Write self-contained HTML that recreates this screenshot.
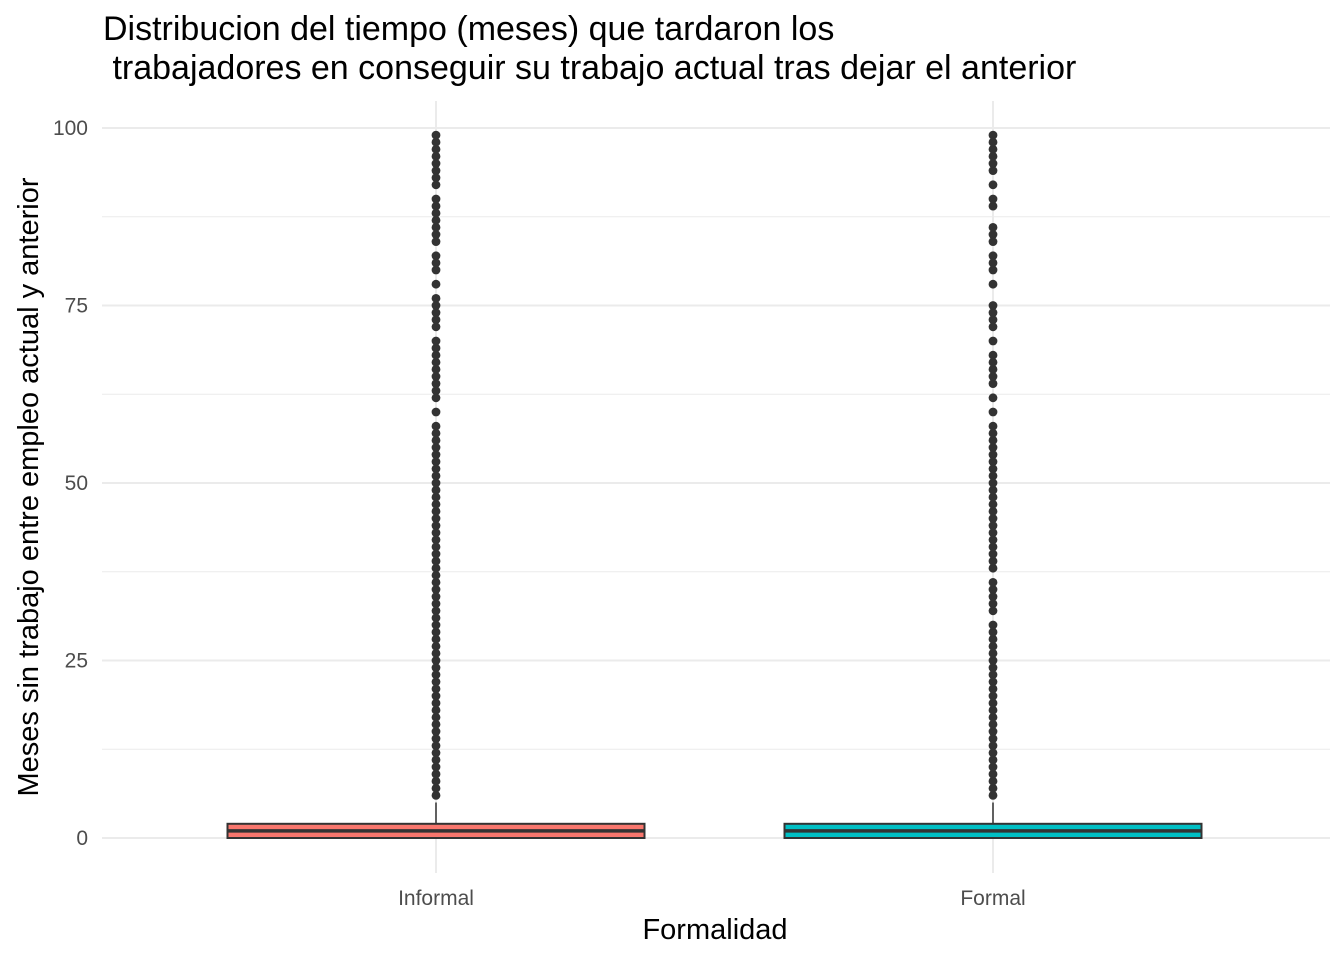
<!DOCTYPE html>
<html><head><meta charset="utf-8"><style>
body{margin:0;background:#fff;}
svg{display:block;font-family:"Liberation Sans",Arial,sans-serif;}
</style></head><body>
<svg id="chart" width="1344" height="960">
<text x="103" y="40" font-size="34" fill="#000">Distribucion del tiempo (meses) que tardaron los</text>
<text x="103" y="79" font-size="34" fill="#000" xml:space="preserve"> trabajadores en conseguir su trabajo actual tras dejar el anterior</text>
<g id="grid"></g>
<g id="yticks"></g>
<g id="marks"></g>
<g id="xticks"></g>
<text x="715" y="939" font-size="29" text-anchor="middle" fill="#000">Formalidad</text>
<text transform="translate(38,487) rotate(-90)" font-size="29" text-anchor="middle" fill="#000">Meses sin trabajo entre empleo actual y anterior</text>
</svg>
<script>
const categories=["Informal","Formal"];
const colors=["#F8766D","#00BFC4"];
const q1=[0,0], medians=[1,1], q3=[2,2], whiskerLow=[0,0], whiskerHigh=[5,5];
const yTicks=[0,25,50,75,100];
function rng(a,b){const r=[];for(let i=a;i<=b;i++)r.push(i);return r;}
const outliersInformal=[].concat(rng(6,58),[60],rng(62,70),rng(72,76),[78],rng(80,82),rng(84,90),rng(92,99));
const outliersFormal=[].concat(rng(6,30),rng(32,36),rng(38,58),[60,62],rng(64,68),[70],rng(72,75),[78],rng(80,82),rng(84,86),[89,90,92],rng(94,99));
const outliers=[outliersInformal,outliersFormal];

const NS="http://www.w3.org/2000/svg";
const pLeft=102,pRight=1330,pTop=101,pBottom=873;
const yScale=v=>838-v*7.1;
const xScale=i=>436+i*557;
const halfW=208.5;
function mk(tag,attrs,parent){const e=document.createElementNS(NS,tag);for(const k in attrs)e.setAttribute(k,attrs[k]);parent.appendChild(e);return e;}
const gridG=document.getElementById('grid'),ytG=document.getElementById('yticks'),marksG=document.getElementById('marks'),xtG=document.getElementById('xticks');
for(let v=-12.5;v<=112.5;v+=12.5){const yy=yScale(v);if(yy<pTop||yy>pBottom)continue;const major=yTicks.includes(v);
const l=mk('line',{x1:pLeft,x2:pRight,y1:yy,y2:yy,stroke:'#ebebeb','stroke-width':major?2:1},gridG);

}
categories.forEach((c,i)=>{const l=mk('line',{x1:xScale(i),x2:xScale(i),y1:pTop,y2:pBottom,stroke:'#ebebeb','stroke-width':2},gridG);

});
yTicks.forEach(v=>{const t=mk('text',{x:88,y:yScale(v)+7,'font-size':21,'text-anchor':'end',fill:'#4d4d4d'},ytG);t.textContent=v;

});
categories.forEach((c,i)=>{
const g=mk('g',{},marksG);


const w=mk('line',{x1:xScale(i),x2:xScale(i),y1:yScale(q3[i]),y2:yScale(whiskerHigh[i]),stroke:'#333','stroke-width':1.5},g);


const r=mk('rect',{x:xScale(i)-halfW,y:yScale(q3[i]),width:halfW*2,height:yScale(q1[i])-yScale(q3[i]),fill:colors[i],stroke:'#333','stroke-width':2},g);


const m=mk('line',{x1:xScale(i)-halfW,x2:xScale(i)+halfW,y1:yScale(medians[i]),y2:yScale(medians[i]),stroke:'#333','stroke-width':3.5},g);


outliers[i].forEach(v=>{const d=mk('circle',{cx:xScale(i),cy:yScale(v),r:4.4,fill:'#333'},g);

});
const t=mk('text',{x:xScale(i),y:905,'font-size':21,'text-anchor':'middle',fill:'#4d4d4d'},xtG);t.textContent=c;


});
</script>
</body></html>
